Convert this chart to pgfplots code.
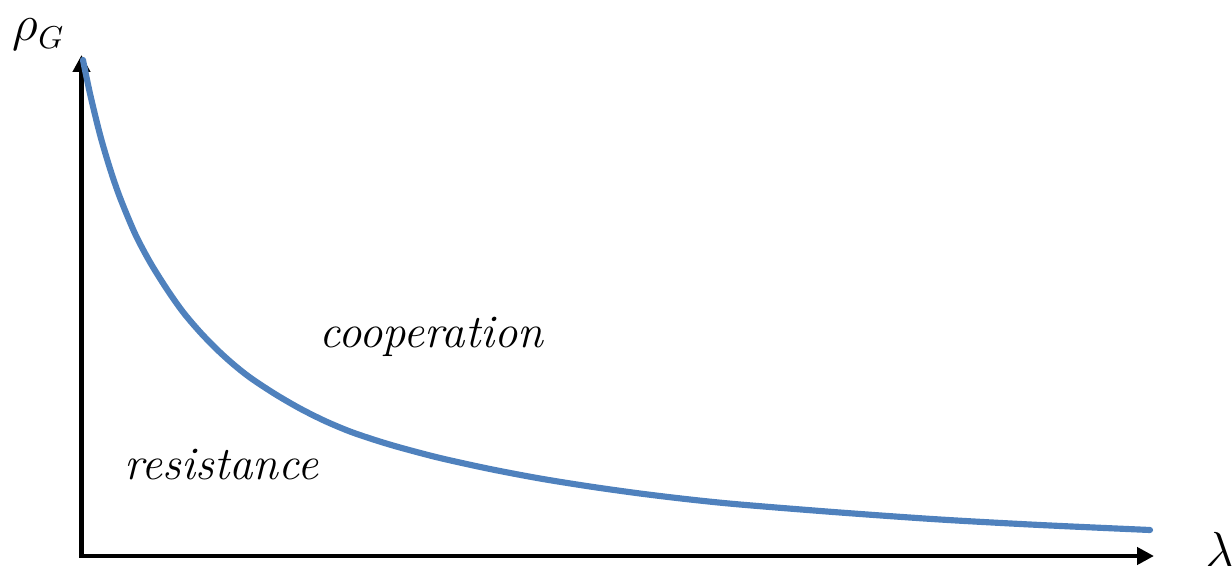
\documentclass[border=0pt]{standalone}
\usepackage{pgfplots}
\pgfplotsset{compat=1.18}
\usepackage{fontspec}
\usetikzlibrary{arrows.meta}
\definecolor{curveblue}{HTML}{4F81BD}

% threshold curve separating the two regimes
\pgfplotstableread{
x y
83 505
90 471.4
100 430.4
110 396.4
120 367.4
135 331.4
150 302.9
167 275.7
183 253
200 233
217 215.5
233 201
250 187.5
275 171
300 156.5
325 144
350 133.5
375 125
400 117.5
440 107
490 96
540 86.5
590 78.5
640 71.5
690 65.5
740 60.5
840 52.5
940 45.5
1040 40
1150 35
}\boundary

\begin{document}
\begin{tikzpicture}
\begin{axis}[
  scale only axis,
  width=12.32cm, height=5.65cm,
  xmin=0, xmax=1232, ymin=0, ymax=565,
  hide axis,
  clip=false,
]
  % axes with arrow heads
  \draw[line width=1.3pt, line join=miter,
        {Triangle[width=0.17cm,length=0.17cm]}-{Triangle[width=0.17cm,length=0.17cm]}]
        (axis cs:81.5,510) -- (axis cs:81.5,9) -- (axis cs:1154,9);
  \addplot[curveblue, line width=1.75pt, smooth, line cap=round] table {\boundary};
  \node[anchor=base west, inner sep=0pt, font=\fontsize{13.3}{15}\selectfont\itshape]
       at (axis cs:319,218) {cooperation};
  \node[anchor=base west, inner sep=0pt, font=\fontsize{13.3}{15}\selectfont\itshape]
       at (axis cs:124,86) {resistance};
  \node[anchor=base west, inner sep=0pt, font=\fontsize{14.5}{16}\selectfont]
       at (axis cs:12,524) {$\rho_{\scalebox{0.9}{$\scriptstyle G$}}$};
  \node[anchor=base west, inner sep=0pt, font=\fontsize{15}{17}\selectfont]
       at (axis cs:1205,-2) {$\lambda$};
\end{axis}
\pgfresetboundingbox
\useasboundingbox (current axis.south west) rectangle (current axis.north east);
\end{tikzpicture}
\end{document}
